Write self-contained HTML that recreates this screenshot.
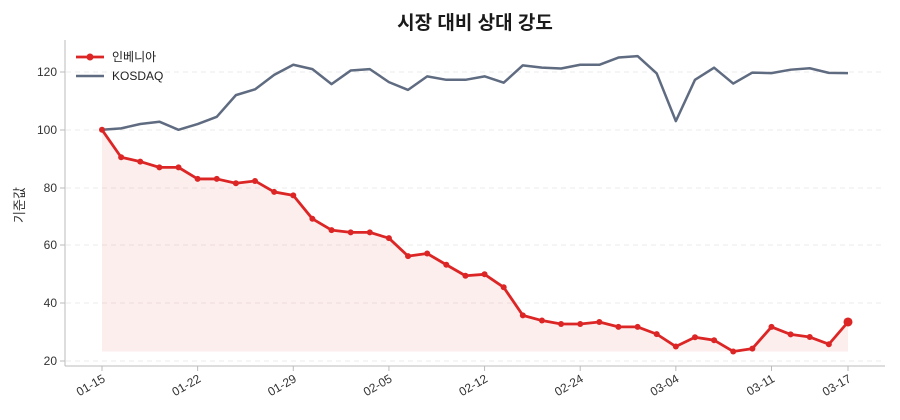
<!DOCTYPE html>
<html><head><meta charset="utf-8"><style>
body{margin:0;background:#fff;}
svg{display:block;font-family:"Liberation Sans","Noto Sans CJK KR",sans-serif;}
</style></head><body>
<svg id="s" width="900" height="420" viewBox="0 0 900 420" xmlns="http://www.w3.org/2000/svg">
<text x="475" y="29" text-anchor="middle" font-size="19" font-weight="bold" fill="#1a1a1a" font-family="Liberation Sans, Noto Sans CJK KR, sans-serif">시장 대비 상대 강도</text>
<g stroke="#ebebeb" stroke-dasharray="5,4" stroke-width="1">
<line x1="66" x2="885" y1="72" y2="72"/><line x1="66" x2="885" y1="130" y2="130"/>
<line x1="66" x2="885" y1="188" y2="188"/><line x1="66" x2="885" y1="245" y2="245"/>
<line x1="66" x2="885" y1="303" y2="303"/><line x1="66" x2="885" y1="361" y2="361"/>
</g>
<line x1="65" y1="40" x2="65" y2="366" stroke="#bbb"/>
<line x1="65" y1="366" x2="885" y1="366" y2="366" stroke="#bbb"/>
<g font-size="12" fill="#333" text-anchor="end">
<text x="57" y="76">120</text><text x="57" y="134">100</text><text x="57" y="192">80</text>
<text x="57" y="249">60</text><text x="57" y="307">40</text><text x="57" y="365">20</text>
</g>
<g stroke="#bbb"><line x1="60" x2="65" y1="72" y2="72"/><line x1="60" x2="65" y1="130" y2="130"/><line x1="60" x2="65" y1="188" y2="188"/><line x1="60" x2="65" y1="245" y2="245"/><line x1="60" x2="65" y1="303" y2="303"/><line x1="60" x2="65" y1="361" y2="361"/></g>
<text transform="translate(24,205) rotate(-90)" text-anchor="middle" font-size="13" fill="#333">기준값</text>
<g id="xt" font-size="12" fill="#333"></g>
<path id="fill" fill="#e02020" fill-opacity="0.08" stroke="none"/>
<polyline id="gl" fill="none" stroke="#5f6b80" stroke-width="2.5" stroke-linejoin="round"/>
<polyline id="rl" fill="none" stroke="#dc2626" stroke-width="2.8" stroke-linejoin="round"/>
<g id="rd" fill="#dc2626"></g>
<line x1="76" x2="104" y1="57" y2="57" stroke="#dc2626" stroke-width="2.8"/><circle cx="90" cy="57" r="3.5" fill="#dc2626"/>
<text x="112" y="61" font-size="12" fill="#222">인베니아</text>
<line x1="76" x2="104" y1="76" y2="76" stroke="#5f6b80" stroke-width="2.5"/>
<text x="112" y="80" font-size="12" fill="#222">KOSDAQ</text>
</svg>
<script>
var R=[100,90.5,89,87,87,83,83,81.5,82.3,78.5,77.3,69.2,65.3,64.5,64.5,62.5,56.3,57.2,53.3,49.5,50,45.5,35.8,34,32.8,32.8,33.5,31.8,31.8,29.3,25,28.2,27.2,23.3,24.3,31.8,29.2,28.3,25.8,33.5];
var G=[100,100.5,102,102.8,100,102,104.5,112,114,119,122.5,121,115.8,120.5,121,116.5,113.8,118.5,117.3,117.3,118.5,116.3,122.3,121.5,121.2,122.5,122.5,125,125.5,119.5,103,117.3,121.5,116,119.8,119.6,120.8,121.3,119.7,119.6];
function X(i){return 102+i*(848-102)/39;}function Y(v){return 361-(v-20)*2.89;}
var ns="http://www.w3.org/2000/svg";
document.getElementById('rl').setAttribute('points',R.map(function(v,i){return X(i)+','+Y(v)}).join(' '));
document.getElementById('gl').setAttribute('points',G.map(function(v,i){return X(i)+','+Y(v)}).join(' '));
var d='M'+X(0)+','+Y(23.3);R.forEach(function(v,i){d+=' L'+X(i)+','+Y(v)});d+=' L'+X(39)+','+Y(23.3)+'Z';
document.getElementById('fill').setAttribute('d',d);
var rd=document.getElementById('rd');
R.forEach(function(v,i){var c=document.createElementNS(ns,'circle');c.setAttribute('cx',X(i));c.setAttribute('cy',Y(v));c.setAttribute('r',i==39?4.5:3);rd.appendChild(c);});
var L=['01-15','01-22','01-29','02-05','02-12','02-24','03-04','03-11','03-17'],I=[0,5,10,15,20,25,30,35,39];
var xt=document.getElementById('xt');
L.forEach(function(t,k){var x=X(I[k]);var ln=document.createElementNS(ns,'line');ln.setAttribute('x1',x);ln.setAttribute('x2',x);ln.setAttribute('y1',366);ln.setAttribute('y2',371);ln.setAttribute('stroke','#bbb');xt.appendChild(ln);
var tx=document.createElementNS(ns,'text');tx.setAttribute('text-anchor','end');tx.setAttribute('transform','translate('+(x+4)+',381) rotate(-30)');tx.textContent=t;xt.appendChild(tx);});
</script>
</body></html>
